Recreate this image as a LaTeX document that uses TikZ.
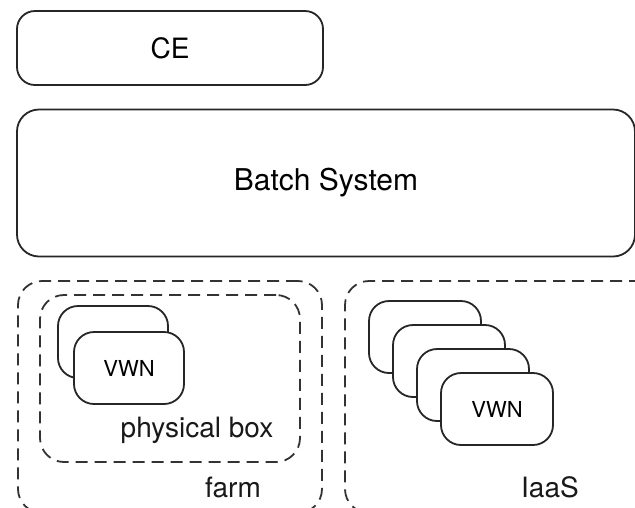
\documentclass[tikz,border=0pt]{standalone}
\usepackage{fontspec}
\setmainfont{TeX Gyre Heros}
\begin{document}
\begin{tikzpicture}[x=1pt,y=-1pt,
  solidbox/.style={draw=black!85, line width=1.8pt, fill=white, inner sep=0pt},
  dashbox/.style={draw=black!80, line width=1.8pt, dash pattern=on 12pt off 7pt, inner sep=0pt},
  vwn/.style={solidbox, rounded corners=20pt, minimum width=110pt, minimum height=72pt, font=\fontsize{22}{26}\selectfont},
  lbl/.style={inner sep=0pt, text=black!90, font=\fontsize{28}{32}\selectfont}]
\useasboundingbox (0,0) rectangle (635,507);
% top boxes
\node[solidbox, rounded corners=18pt, minimum width=306pt, minimum height=74pt,
      font=\fontsize{28}{32}\selectfont] (ce) at (170,48) {CE};
\node[solidbox, rounded corners=22pt, minimum width=618pt, minimum height=147pt,
      font=\fontsize{30}{34}\selectfont] (batch) at (326,183) {Batch System};
% farm
\node[dashbox, rounded corners=24pt, minimum width=304pt, minimum height=232pt] (farm) at (170,397) {};
\node[dashbox, rounded corners=24pt, minimum width=260pt, minimum height=167pt] (pbox) at (170,378.5) {};
\node[vwn] (fb) at (113,342) {};
\node[vwn] (ff) at (129,368) {VWN};
\node[lbl] (pboxl) at (197,430) {physical box};
\node[lbl] (farml) at (233,487) {farm};
% IaaS
\node[dashbox, rounded corners=24pt, minimum width=320pt, minimum height=232pt] (iaas) at (505,397) {};
\node[vwn, minimum width=112pt] (i1) at (425,337) {};
\node[vwn, minimum width=112pt] (i2) at (449,361) {};
\node[vwn, minimum width=112pt] (i3) at (473,385) {};
\node[vwn, minimum width=112pt] (i4) at (497,409) {VWN};
\node[lbl] (iaasl) at (550,487) {IaaS};
\end{tikzpicture}
\end{document}
